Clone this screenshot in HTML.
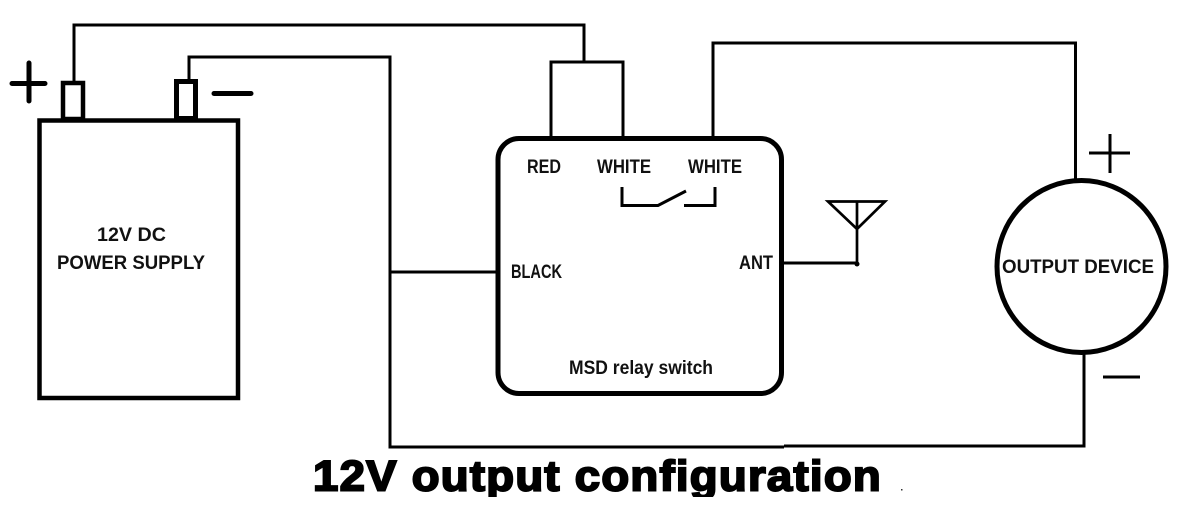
<!DOCTYPE html>
<html>
<head>
<meta charset="utf-8">
<style>
html,body{margin:0;padding:0;background:#fff}
svg{display:block}
text{font-family:"Liberation Sans",sans-serif;fill:#111}
.l{font-size:19px;font-weight:bold}
</style>
</head>
<body>
<svg width="1196" height="513" viewBox="0 0 1196 513" xmlns="http://www.w3.org/2000/svg">
<defs><clipPath id="c"><rect x="0" y="440" width="1196" height="57"/></clipPath></defs>
<g fill="none" stroke="#000">
<rect x="39.5" y="120.5" width="198.5" height="277.5" stroke-width="4.5"/>
<rect x="63" y="83" width="20" height="36" stroke-width="4.5"/>
<rect x="176.5" y="81.5" width="19" height="37" stroke-width="5"/>
<path d="M74 83V25H584V61" stroke-width="3"/>
<path d="M189 81V57H390V447H784M784 446H1084V354" stroke-width="3"/>
<path d="M390 272H498" stroke-width="3"/>
<path d="M551 137V62H623V137" stroke-width="3"/>
<path d="M713 137V43H1075.500V180" stroke-width="3"/>
<rect x="498" y="138.500" width="283.500" height="255" rx="21" stroke-width="5"/>
<path d="M622 187V205.500H658L686 191M684 205.500H715V187" stroke-width="3"/>
<path d="M782 263H857" stroke-width="3"/>
<path d="M857 264V201M828 201.500H885L857 229Z" stroke-width="2.700"/>
<ellipse cx="1081.500" cy="266.500" rx="84.500" ry="86" stroke-width="5"/>
<path d="M12 83.500H45M29 63V101" stroke-width="5" stroke-linecap="round"/>
<path d="M214 93.500H251" stroke-width="5" stroke-linecap="round"/>
<path d="M1089 153H1130M1110 134V173" stroke-width="3"/>
<path d="M1103 377H1140" stroke-width="3"/>
</g>
<circle cx="498" cy="272" r="2.500" fill="#000"/>
<circle cx="857" cy="264" r="2.500" fill="#000"/>
<rect x="901" y="489" width="1.500" height="1.500" fill="#333"/>
<text class="l" x="97" y="241" textLength="69" lengthAdjust="spacingAndGlyphs">12V DC</text>
<text class="l" x="57" y="269" textLength="148" lengthAdjust="spacingAndGlyphs">POWER SUPPLY</text>
<text class="l" x="527" y="173" textLength="34" lengthAdjust="spacingAndGlyphs">RED</text>
<text class="l" x="597" y="173" textLength="54" lengthAdjust="spacingAndGlyphs">WHITE</text>
<text class="l" x="688" y="173" textLength="54" lengthAdjust="spacingAndGlyphs">WHITE</text>
<text class="l" x="511" y="278" textLength="51" lengthAdjust="spacingAndGlyphs">BLACK</text>
<text class="l" x="739" y="269" textLength="34" lengthAdjust="spacingAndGlyphs">ANT</text>
<text class="l" x="569" y="374" textLength="144" lengthAdjust="spacingAndGlyphs">MSD relay switch</text>
<text class="l" x="1002" y="273" textLength="152" lengthAdjust="spacingAndGlyphs">OUTPUT DEVICE</text>
<g clip-path="url(#c)">
<text x="313" y="490.500" textLength="569" lengthAdjust="spacingAndGlyphs" style="font-size:43px;font-weight:bold;letter-spacing:1.200px;fill:#000;stroke:#000;stroke-width:2">12V output configuration</text>
</g>
</svg>
</body>
</html>
